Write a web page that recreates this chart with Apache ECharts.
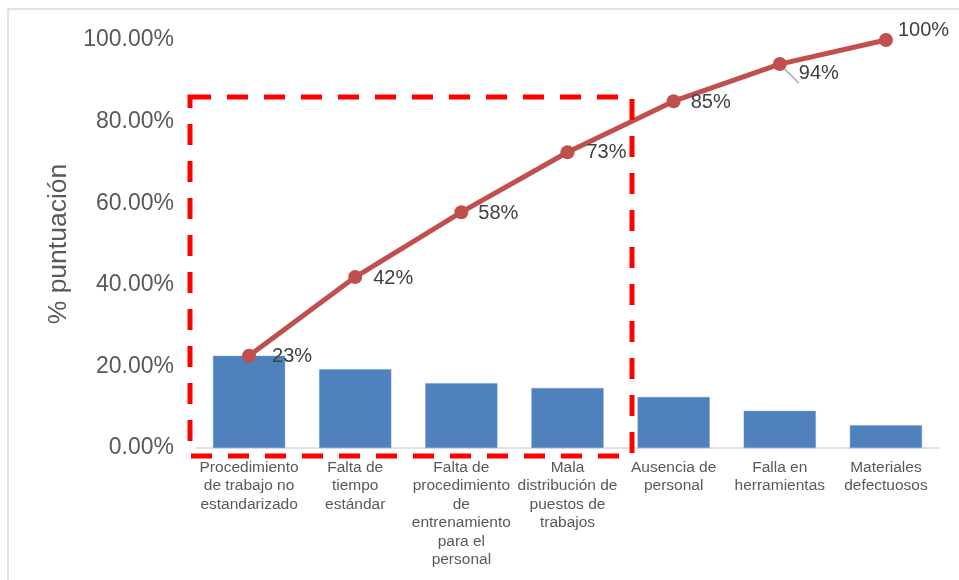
<!DOCTYPE html>
<html>
<head>
<meta charset="utf-8">
<script src="https://cdn.jsdelivr.net/npm/echarts@6/dist/echarts.min.js"></script>
<style>
  html, body { margin: 0; padding: 0; background: #fff; }
  #chart { width: 959px; height: 580px; }
</style>
</head>
<body>
<div id="chart"></div>
<script>
const categories = [
  'Procedimiento\nde trabajo no\nestandarizado',
  'Falta de\ntiempo\nestándar',
  'Falta de\nprocedimiento\nde\nentrenamiento\npara el\npersonal',
  'Mala\ndistribución de\npuestos de\ntrabajos',
  'Ausencia de\npersonal',
  'Falla en\nherramientas',
  'Materiales\ndefectuosos'
]
const barValues = [22.6, 19.3, 15.9, 14.7, 12.5, 9.1, 5.6]
const cumValues = [22.6, 41.9, 57.8, 72.5, 85.0, 94.1, 100]
const cumLabels = ['23%', '42%', '58%', '73%', '85%', '94%', '100%']
const yTicks = [0, 20, 40, 60, 80, 100]

const chart = echarts.init(document.getElementById('chart'))

// label offsets, tuned by eye
const labelOffsets = [[6, 1], [1, 1], [0, 1], [2, 0], [0, 1], [2, 9], [-5, -10]]

const option = {
  animation: false,
  backgroundColor: '#fff',
  grid: { left: 196, right: 20, top: 40, bottom: 132 },
  xAxis: {
    type: 'category',
    data: categories,
    axisTick: { show: false },
    axisLine: { lineStyle: { color: '#d9d9d9', width: 1.5 } },
    axisLabel: {
      interval: 0,
      color: '#595959',
      fontSize: 15.5,
      lineHeight: 18.5,
      margin: 10,
      fontFamily: 'Liberation Sans, Arial, sans-serif'
    }
  },
  yAxis: {
    type: 'value',
    min: 0,
    max: 100,
    interval: 20,
    name: '% puntuación',
    nameLocation: 'middle',
    nameGap: 122,
    nameRotate: 90,
    nameTextStyle: { color: '#595959', fontSize: 26.5, fontFamily: 'Liberation Sans, Arial, sans-serif' },
    axisLine: { show: false },
    axisTick: { show: false },
    splitLine: { show: false },
    axisLabel: {
      color: '#595959',
      fontSize: 23,
      margin: 22,
      fontFamily: 'Liberation Sans, Arial, sans-serif',
      formatter: v => yTicks.includes(v) ? v.toFixed(2) + '%' : ''
    }
  },
  series: [
    {
      type: 'bar',
      data: barValues,
      barWidth: '68%',
      itemStyle: { color: '#4F81BD', borderColor: '#6f9bd0', borderWidth: 0.5 }
    },
    {
      type: 'line',
      data: cumValues.map((v, i) => ({
        value: v,
        label: { offset: labelOffsets[i] },
        // small gray leader on the 94% label, as in the original
        labelLine: i === 5 ? { show: true, lineStyle: { color: '#a6a6a6', width: 1.5 } } : undefined
      })),
      symbol: 'circle',
      symbolSize: 14,
      lineStyle: { color: '#C0504D', width: 5 },
      itemStyle: { color: '#C0504D' },
      label: {
        show: true,
        position: 'right',
        distance: 10,
        color: '#404040',
        fontSize: 20,
        fontFamily: 'Liberation Sans, Arial, sans-serif',
        formatter: p => cumLabels[p.dataIndex]
      },
      z: 5
    }
  ],
  graphic: [
    {
      type: 'rect',
      shape: { x: 8, y: 9, width: 960, height: 580 },
      style: { fill: 'none', stroke: '#d9d9d9', lineWidth: 1.5 },
      silent: true
    },
    {
      type: 'rect',
      shape: { x: 190, y: 97, width: 442, height: 359 },
      style: { fill: 'none', stroke: '#ff0000', lineWidth: 5, lineDash: [21, 16] },
      z: 10,
      silent: true
    }
  ]
}

chart.setOption(option)
</script>
</body>
</html>
